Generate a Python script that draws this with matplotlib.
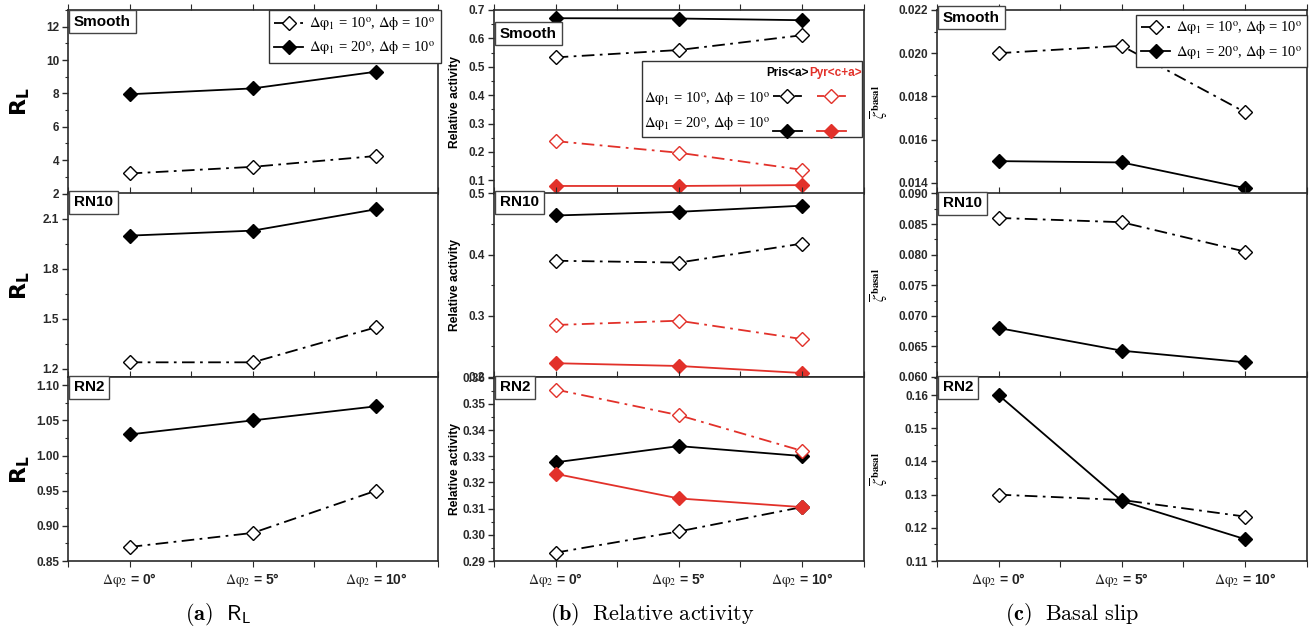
import numpy as np
import matplotlib.pyplot as plt
from matplotlib.ticker import MultipleLocator, FormatStrFormatter
from matplotlib.patches import Rectangle
from matplotlib.lines import Line2D

plt.rcParams["font.family"] = ["Liberation Sans", "DejaVu Sans"]
plt.rcParams["mathtext.fontset"] = "stix"

# ---------- data ----------
dphi2 = ["0", "5", "10"]
surfaces = ["Smooth", "RN10", "RN2"]

# (a) R_L
rl_smooth_10 = [3.2, 3.6, 4.25]
rl_smooth_20 = [7.95, 8.3, 9.3]
rl_rn10_10 = [1.24, 1.24, 1.45]
rl_rn10_20 = [2.0, 2.03, 2.158]
rl_rn2_10 = [0.87, 0.89, 0.95]
rl_rn2_20 = [1.03, 1.05, 1.07]

# (b) relative activity: prismatic <a> and pyramidal <c+a>
pris_smooth_10 = [0.533, 0.559, 0.611]
pris_smooth_20 = [0.671, 0.670, 0.664]
pyr_smooth_10 = [0.238, 0.197, 0.137]
pyr_smooth_20 = [0.080, 0.080, 0.083]
pris_rn10_10 = [0.390, 0.387, 0.418]
pris_rn10_20 = [0.464, 0.470, 0.480]
pyr_rn10_10 = [0.285, 0.292, 0.262]
pyr_rn10_20 = [0.2225, 0.218, 0.2065]
pris_rn2_10 = [0.2932, 0.3013, 0.3106]
pris_rn2_20 = [0.3277, 0.3339, 0.3301]
pyr_rn2_10 = [0.3555, 0.3457, 0.3321]
pyr_rn2_20 = [0.3233, 0.3139, 0.3106]

# (c) basal slip
bas_smooth_10 = [0.0200, 0.02034, 0.01727]
bas_smooth_20 = [0.0150, 0.01494, 0.01375]
bas_rn10_10 = [0.0860, 0.0853, 0.0805]
bas_rn10_20 = [0.0680, 0.0643, 0.0624]
bas_rn2_10 = [0.1300, 0.1284, 0.1234]
bas_rn2_20 = [0.1600, 0.1281, 0.1166]

# ---------- styling ----------
RED = "#e2312a"
SPINE = "#2a2a2a"
DASHDOT = (0, (7, 3, 1.5, 3))
lab10 = r"$\Delta\mathrm{\varphi}_1$ = 10$^{\rm o}$, $\Delta\mathrm{\phi}$ = 10$^{\rm o}$"
lab20 = r"$\Delta\mathrm{\varphi}_1$ = 20$^{\rm o}$, $\Delta\mathrm{\phi}$ = 10$^{\rm o}$"
SERIF = ["Liberation Serif", "DejaVu Serif"]

col_left = [0.0518, 0.3760, 0.7131]
col_width = 0.2812
row_bottom = [0.6938, 0.4035, 0.1123]
row_height = 0.2904

x = np.arange(len(dphi2))


def series(ax, y, color, filled, label=None):
    ax.plot(x, y, color=color, lw=1.3,
            ls="-" if filled else DASHDOT,
            marker="D", ms=7, mec=color, mew=1.0,
            mfc=color if filled else "white",
            label=label, zorder=3)


def setup(ax, ylim, major, minor, fmt, bottom_row, name, box_top):
    ax.set_xlim(-0.5, 2.5)
    ax.set_ylim(*ylim)
    ax.yaxis.set_major_locator(MultipleLocator(major))
    ax.yaxis.set_minor_locator(MultipleLocator(minor))
    ax.yaxis.set_major_formatter(FormatStrFormatter(fmt))
    ax.set_xticks(x)
    ax.xaxis.set_minor_locator(MultipleLocator(0.5))
    ax.tick_params(axis="y", which="major", direction="out", length=4.5,
                   width=1, labelsize=8.5, pad=2, colors=SPINE)
    ax.tick_params(axis="y", which="minor", direction="out", length=2.5,
                   width=0.8, colors=SPINE)
    ax.tick_params(axis="x", which="both", direction="out", top=True,
                   bottom=bottom_row, labelbottom=bottom_row, length=4,
                   width=0.8, colors=SPINE)
    for lbl in ax.get_yticklabels():
        lbl.set_fontweight("bold")
    if bottom_row:
        ax.set_xticklabels([r"$\Delta\mathrm{\varphi}_2$ = " + d + "°" for d in dphi2],
                           fontsize=10, fontweight="bold", color="#222")
    for s in ax.spines.values():
        s.set_color(SPINE)
        s.set_linewidth(1.2)
    ax.text(0.016, box_top, name, transform=ax.transAxes, ha="left", va="top",
            fontsize=11, fontweight="bold", zorder=6,
            bbox=dict(boxstyle="square,pad=0.3", fc="white", ec="#444", lw=1))


fig = plt.figure(figsize=(13.14, 6.32), dpi=100)

axes = [[fig.add_axes([col_left[c], row_bottom[r], col_width, row_height])
         for r in range(3)] for c in range(3)]

# ----- (a) R_L -----
rl_10 = [rl_smooth_10, rl_rn10_10, rl_rn2_10]
rl_20 = [rl_smooth_20, rl_rn10_20, rl_rn2_20]
rl_lims = [(2, 13), (1.152, 2.253), (0.85, 1.111)]
rl_major = [2, 0.3, 0.05]
rl_fmt = ["%d", "%.1f", "%.2f"]
for r in range(3):
    ax = axes[0][r]
    series(ax, rl_10[r], "black", False, lab10)
    series(ax, rl_20[r], "black", True, lab20)
    setup(ax, rl_lims[r], rl_major[r], rl_major[r] / 2, rl_fmt[r], r == 2,
          surfaces[r], [0.975, 0.99, 0.985][r])
    ax.set_ylabel(r"$\mathbf{R_L}$", fontsize=16, math_fontfamily="dejavusans")
    ax.yaxis.set_label_coords(-0.097, 0.5)
axes[0][0].legend(loc="upper right", bbox_to_anchor=(1.008, 0.998),
                  borderaxespad=0, fancybox=False, edgecolor="#333",
                  framealpha=1, handlelength=2.0, handletextpad=0.4,
                  borderpad=0.35, labelspacing=0.45,
                  prop=dict(family=SERIF, size=10.5)).get_frame().set_linewidth(1)

# ----- (b) relative activity -----
pris_10 = [pris_smooth_10, pris_rn10_10, pris_rn2_10]
pris_20 = [pris_smooth_20, pris_rn10_20, pris_rn2_20]
pyr_10 = [pyr_smooth_10, pyr_rn10_10, pyr_rn2_10]
pyr_20 = [pyr_smooth_20, pyr_rn10_20, pyr_rn2_20]
ra_lims = [(0.0534, 0.7), (0.2, 0.5), (0.29, 0.3601)]
ra_major = [0.1, 0.1, 0.01]
ra_fmt = ["%.1f", "%.1f", "%.2f"]
for r in range(3):
    ax = axes[1][r]
    series(ax, pris_10[r], "black", False)
    series(ax, pris_20[r], "black", True)
    series(ax, pyr_10[r], RED, False)
    series(ax, pyr_20[r], RED, True)
    setup(ax, ra_lims[r], ra_major[r], ra_major[r] / 2, ra_fmt[r], r == 2,
          surfaces[r], [0.91, 0.99, 0.985][r])
    ax.set_ylabel("Relative activity", fontsize=8.7, fontweight="bold")
    ax.yaxis.set_label_coords(-0.09, 0.5)

# hand-built legend with two columns (Pris<a> black, Pyr<c+a> red)
ax = axes[1][0]
ax.add_patch(Rectangle((0.400, 0.310), 0.596, 0.412, transform=ax.transAxes,
                       fc="white", ec="#333", lw=1, zorder=5, clip_on=False))
ax.text(0.851, 0.657, "Pris<a>", transform=ax.transAxes, ha="right",
        va="center", fontsize=8.5, fontweight="bold", zorder=6)
ax.text(0.852, 0.657, "Pyr<c+a>", transform=ax.transAxes, ha="left",
        va="center", fontsize=8.5, fontweight="bold", color=RED, zorder=6)
for ty, hy, lab, filled in [(0.515, 0.533, lab10, False),
                            (0.377, 0.342, lab20, True)]:
    ax.text(0.407, ty, lab, transform=ax.transAxes, ha="left", va="center",
            family=SERIF, fontsize=10.5, zorder=6)
    for x0, col in [(0.754, "black"), (0.873, RED)]:
        ax.add_line(Line2D([x0, x0 + 0.04, x0 + 0.08], [hy] * 3,
                           transform=ax.transAxes, color=col, lw=1.3,
                           ls="-" if filled else (0, (4, 2)),
                           marker="D", ms=7, markevery=[1], mec=col,
                           mfc=col if filled else "white", zorder=7))

# ----- (c) basal slip -----
bas_10 = [bas_smooth_10, bas_rn10_10, bas_rn2_10]
bas_20 = [bas_smooth_20, bas_rn10_20, bas_rn2_20]
bas_lims = [(0.0135, 0.022), (0.06, 0.09), (0.11, 0.1653)]
bas_major = [0.002, 0.005, 0.01]
bas_fmt = ["%.3f", "%.3f", "%.2f"]
for r in range(3):
    ax = axes[2][r]
    series(ax, bas_10[r], "black", False, lab10)
    series(ax, bas_20[r], "black", True, lab20)
    setup(ax, bas_lims[r], bas_major[r], bas_major[r] / 2, bas_fmt[r], r == 2,
          surfaces[r], [0.995, 0.985, 0.985][r])
    ax.set_ylabel(r"$\overline{\zeta}^{\,\mathbf{basal}}$", fontsize=11)
    ax.yaxis.set_label_coords(-0.125, 0.5)
axes[2][0].legend(loc="upper right", bbox_to_anchor=(1.002, 0.975),
                  borderaxespad=0, fancybox=False, edgecolor="#333",
                  framealpha=1, handlelength=2.0, handletextpad=0.4,
                  borderpad=0.35, labelspacing=0.45,
                  prop=dict(family=SERIF, size=10.5)).get_frame().set_linewidth(1)

# ----- sub-figure captions -----
cap_kw = dict(ha="center", va="center", fontsize=16, math_fontfamily="cm")
fig.text(218 / 1314, 0.027, r"$\mathbf{(a)}\ \ \mathsf{R_L}$", **cap_kw)
fig.text(652 / 1314, 0.027, r"$\mathbf{(b)}\ \ \mathrm{Relative\ activity}$", **cap_kw)
fig.text(1072 / 1314, 0.027, r"$\mathbf{(c)}\ \ \mathrm{Basal\ slip}$", **cap_kw)

fig.savefig("out.png", dpi=100)
